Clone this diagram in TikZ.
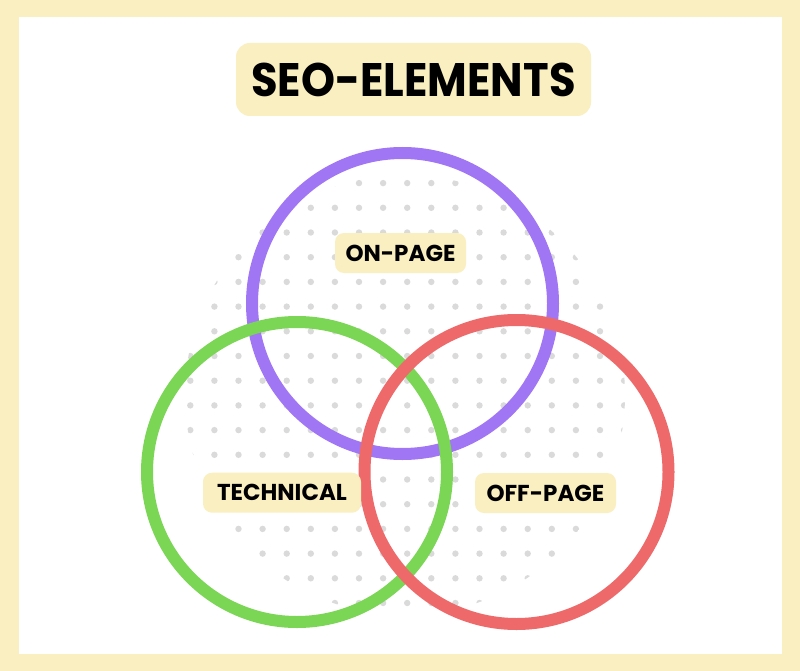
\documentclass[tikz,border=0pt]{standalone}
\usepackage{fontspec}
\setmainfont{Poppins}[UprightFont=* Bold, BoldFont=* Bold]
\definecolor{bgyellow}{HTML}{FAEFC0}
\definecolor{dotgray}{HTML}{DADADA}
\definecolor{cpurple}{HTML}{A076F5}
\definecolor{cgreen}{HTML}{7AD654}
\definecolor{cred}{HTML}{EE6A6A}
\tikzset{
  ring/.style={line width=12pt},
  tag/.style={fill=bgyellow, rounded corners=9pt, inner sep=0pt, minimum height=40pt, font=\fontsize{23}{23}\selectfont, text=black},
  titletag/.style={fill=bgyellow, rounded corners=14pt, inner sep=0pt, minimum width=355pt, minimum height=73pt, font=\fontsize{47}{47}\selectfont, text=black},
}
\begin{document}
\begin{tikzpicture}[x=1pt,y=-1pt]
\useasboundingbox (0,0) rectangle (800,671);
\fill[bgyellow] (0,0) rectangle (800,671);
\fill[white] (19,17) rectangle (782,654);
% dot field
\begin{scope}
\clip (405,395) circle (220);
\foreach \i in {-9,...,18}{
  \foreach \j in {-9,...,10}{
    \fill[dotgray] ({190.3+24.1*\i},{380.7+24.7*\j}) circle (3.2);
  }
}
\end{scope}
% rings
\node[circle, draw=cpurple, ring, minimum size=301pt, inner sep=0pt] (onring) at (402.5,303.5) {};
\node[circle, draw=cgreen, ring, minimum size=300pt, inner sep=0pt] (techring) at (297,472) {};
\node[circle, draw=cred, ring, minimum size=304pt, inner sep=0pt] (offring) at (516.5,472) {};
% labels
\node[titletag] (title) at (413.5,79.5) {\scalebox{0.92}[1]{SEO-ELEMENTS}};
\node[tag, minimum width=131pt] (onpage) at (400.5,253) {ON-PAGE};
\node[tag, minimum width=158pt] (technical) at (282,492.7) {TECHNICAL};
\node[tag, minimum width=141pt] (offpage) at (545.5,493) {OFF-PAGE};
\end{tikzpicture}
\end{document}
